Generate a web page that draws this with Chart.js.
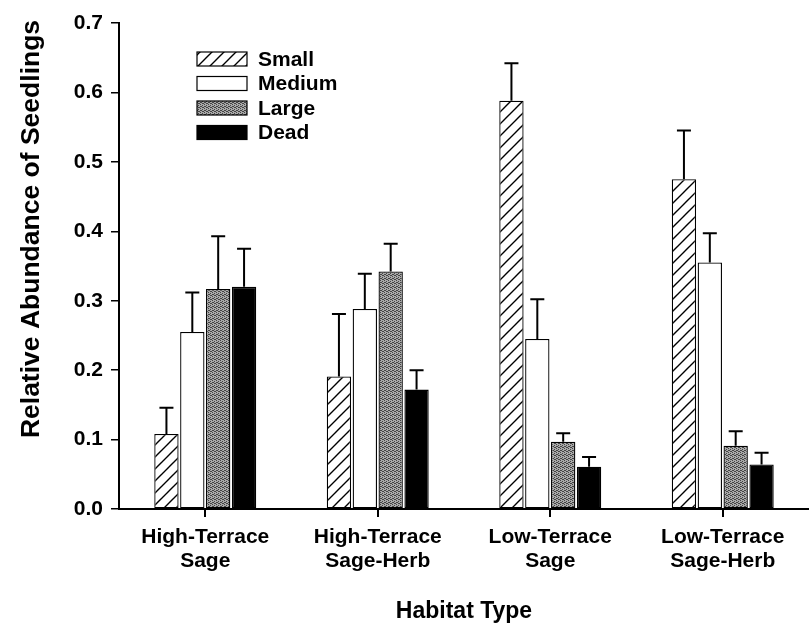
<!DOCTYPE html>
<html>
<head>
<meta charset="utf-8">
<script src="https://cdn.jsdelivr.net/npm/chart.js@4.4.0/dist/chart.umd.min.js"></script>
<style>
  body { margin: 0; background: #fff; }
  #wrap { width: 809px; height: 626px; }
</style>
</head>
<body>
<div id="wrap"><canvas id="seedlings" width="809" height="626"></canvas></div>
<script>
// habitat categories (two-line tick labels)
const habitats = [
  ['High-Terrace', 'Sage'],
  ['High-Terrace', 'Sage-Herb'],
  ['Low-Terrace', 'Sage'],
  ['Low-Terrace', 'Sage-Herb']
];
const sizeClasses = ['Small', 'Medium', 'Large', 'Dead'];

// mean relative abundance per size class
const smallVals  = [0.108, 0.191, 0.588, 0.475];
const mediumVals = [0.255, 0.288, 0.245, 0.355];
const largeVals  = [0.317, 0.342, 0.097, 0.091];
const deadVals   = [0.320, 0.172, 0.061, 0.064];

// standard errors (upper bars only)
const smallErr  = [0.038, 0.090, 0.054, 0.070];
const mediumErr = [0.057, 0.051, 0.057, 0.042];
const largeErr  = [0.076, 0.040, 0.012, 0.021];
const deadErr   = [0.055, 0.028, 0.014, 0.017];

const yTicks = [0.0, 0.1, 0.2, 0.3, 0.4, 0.5, 0.6, 0.7];

const FONT = '"Liberation Sans", Arial, sans-serif';

function makeHatch() {
  const c = document.createElement('canvas');
  c.width = 12; c.height = 12;
  const g = c.getContext('2d');
  g.fillStyle = '#fff';
  g.fillRect(0, 0, 12, 12);
  g.strokeStyle = '#000';
  g.lineWidth = 1.4;
  g.beginPath();
  g.moveTo(-1, 13); g.lineTo(13, -1);
  g.moveTo(-7, 7); g.lineTo(7, -7);
  g.moveTo(5, 19); g.lineTo(19, 5);
  g.stroke();
  return g.createPattern(c, 'repeat');
}

function makeStipple() {
  const c = document.createElement('canvas');
  c.width = 4; c.height = 4;
  const g = c.getContext('2d');
  g.fillStyle = '#a9a9a9';
  g.fillRect(0, 0, 4, 4);
  g.fillStyle = '#444';
  [[0,0],[2,1],[1,2],[3,3],[2,3],[0,2]].forEach(p => g.fillRect(p[0], p[1], 1, 1));
  return g.createPattern(c, 'repeat');
}

const fills = [makeHatch(), '#ffffff', makeStipple(), '#000000'];
const values = [smallVals, mediumVals, largeVals, deadVals];
const errors = [smallErr, mediumErr, largeErr, deadErr];

const errorBars = {
  id: 'errorBars',
  afterDatasetsDraw(chart) {
    const ctx = chart.ctx;
    const y = chart.scales.y;
    ctx.save();
    ctx.strokeStyle = '#000';
    ctx.lineWidth = 2;
    chart.data.datasets.forEach((ds, di) => {
      const meta = chart.getDatasetMeta(di);
      meta.data.forEach((bar, i) => {
        const top = y.getPixelForValue(ds.data[i]);
        const cap = y.getPixelForValue(ds.data[i] + ds.err[i]);
        ctx.beginPath();
        ctx.moveTo(bar.x, top);
        ctx.lineTo(bar.x, cap);
        ctx.moveTo(bar.x - 7, cap);
        ctx.lineTo(bar.x + 7, cap);
        ctx.stroke();
      });
    });
    ctx.restore();
  }
};

const boxLegend = {
  id: 'boxLegend',
  afterDraw(chart) {
    const ctx = chart.ctx;
    const a = chart.chartArea;
    ctx.save();
    ctx.font = 'bold 21px ' + FONT;
    ctx.textBaseline = 'middle';
    chart.data.datasets.forEach((ds, i) => {
      const x = a.left + 78;
      const cy = a.top + 36 + i * 24.5;
      ctx.fillStyle = ds.backgroundColor;
      ctx.fillRect(x, cy - 7, 50, 14);
      ctx.strokeStyle = '#000';
      ctx.lineWidth = 1.2;
      ctx.strokeRect(x, cy - 7, 50, 14);
      ctx.fillStyle = '#000';
      ctx.fillText(ds.label, x + 61, cy + 1);
    });
    ctx.restore();
  }
};

// y-axis title, placed like the original (a bit above the axis middle)
const yTitle = {
  id: 'yTitle',
  afterDraw(chart) {
    const ctx = chart.ctx;
    ctx.save();
    ctx.translate(32, 229);
    ctx.rotate(-Math.PI / 2);
    ctx.font = 'bold 26.5px ' + FONT;
    ctx.textAlign = 'center';
    ctx.textBaseline = 'middle';
    ctx.fillStyle = '#000';
    ctx.fillText('Relative Abundance of Seedlings', 0, 0);
    ctx.restore();
  }
};

new Chart(document.getElementById('seedlings'), {
  type: 'bar',
  data: {
    labels: habitats,
    datasets: sizeClasses.map((name, i) => ({
      label: name,
      data: values[i],
      err: errors[i],
      backgroundColor: fills[i],
      borderColor: '#000',
      borderWidth: 1.3,
      borderSkipped: false,
      categoryPercentage: 0.6,
      barPercentage: 0.94
    }))
  },
  options: {
    responsive: false,
    animation: false,
    devicePixelRatio: 1,
    layout: { padding: { top: 23, right: 0 } },
    plugins: {
      legend: { display: false },
      tooltip: { enabled: false }
    },
    scales: {
      x: {
        offset: true,
        border: { display: true, color: '#000', width: 2 },
        grid: { offset: false, drawOnChartArea: false, color: '#000', lineWidth: 2, tickLength: 8 },
        ticks: {
          color: '#000',
          font: { family: FONT, size: 21, weight: 'bold', lineHeight: 1.15 },
          padding: 8,
          maxRotation: 0,
          autoSkip: false
        },
        title: {
          display: true,
          text: 'Habitat Type',
          color: '#000',
          font: { family: FONT, size: 23, weight: 'bold' },
          padding: { top: 0, bottom: 1 }
        },
        afterFit(scale) { scale.height = 117; }
      },
      y: {
        min: 0,
        max: 0.7,
        border: { display: true, color: '#000', width: 2 },
        grid: { drawOnChartArea: false, color: '#000', lineWidth: 1.5, tickLength: 8 },
        afterBuildTicks(scale) { scale.ticks = yTicks.map(v => ({ value: v })); },
        ticks: {
          color: '#000',
          font: { family: FONT, size: 21, weight: 'bold' },
          padding: 8,
          callback: v => Number(v).toFixed(1)
        },
        afterFit(scale) { scale.width = 119; }
      }
    }
  },
  plugins: [errorBars, boxLegend, yTitle]
});
</script>
</body>
</html>
